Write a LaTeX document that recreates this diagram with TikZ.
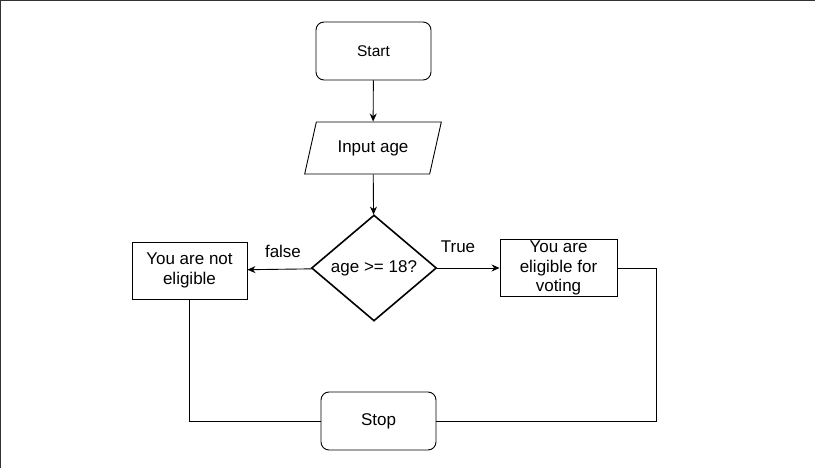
\documentclass[tikz,border=0pt]{standalone}
\usepackage{fontspec}
\setmainfont{Liberation Sans}
\usetikzlibrary{shapes.geometric,arrows.meta}
\begin{document}
\begin{tikzpicture}[x=1pt,y=-1pt, every node/.style={font=\fontsize{17}{19.5}\selectfont}]
  \tikzstyle{term}=[draw,rounded corners=8pt,minimum width=115pt,minimum height=58pt,line width=0.9pt]
  \tikzstyle{io}=[draw,trapezium,trapezium left angle=70,trapezium right angle=110,trapezium stretches=true,minimum width=138pt,minimum height=52pt,line width=0.9pt]
  \tikzstyle{test}=[draw,diamond,minimum width=125pt,minimum height=106pt,inner sep=0pt,line width=1.6pt]
  \tikzstyle{msg}=[draw,align=center,minimum height=57pt,inner ysep=0pt,line width=0.9pt]
  \tikzstyle{arr}=[-{Stealth[length=8pt,width=7pt]},line width=0.9pt]
  \useasboundingbox (0,0) rectangle (815,468);
  \draw[line width=1.5pt,black!80] (0.7,468) -- (0.7,0.7) -- (815,0.7);
  \node[term,font=\fontsize{15.5}{18}\selectfont] (start) at (373.5,51) {Start};
  \node[io] (input) at (373,148) {Input age};
  \node[test] (check) at (374,268) {age >= 18?};
  \node[msg,minimum width=115pt] (no) at (189.5,270.5) {You are not\\eligible};
  \node[msg,minimum width=117pt] (yes) at (558.5,268) {You are\\eligible for\\voting};
  \node[term] (stop) at (378.5,421) {Stop};
  \node (false) at (283,251) {false};
  \node (true) at (458,247) {True};
  \draw[arr] (start) -- (input);
  \draw[arr] (input) -- (check);
  \draw[arr] (check) -- (no);
  \draw[arr] (check) -- (yes);
  \draw[line width=0.9pt] (no) |- (stop);
  \draw[line width=0.9pt] (yes.east) -- ++(39,0) |- (stop);
\end{tikzpicture}
\end{document}
